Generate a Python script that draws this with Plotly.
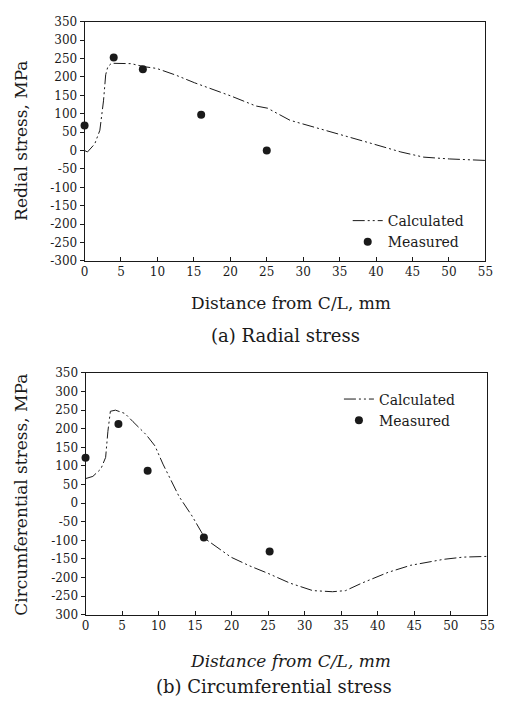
import plotly.graph_objects as go

# ---- data ----
x_ticks = [0, 5, 10, 15, 20, 25, 30, 35, 40, 45, 50, 55]
y_ticks = [350, 300, 250, 200, 150, 100, 50, 0, -50, -100, -150, -200, -250, -300]
y_ticktext_a = ["350", "300", "250", "200", "150", "100", "50", "0", "-50", "-100", "-150", "-200", "-250", "-300"]
y_ticktext_b = ["350", "300", "250", "200", "150", "100", "50", "0", "-50", "-100", "-150", "-200", "-250", "300"]

rad_calc_x = [0, 0.4, 1.4, 2.1, 2.6, 2.9, 3.2, 3.7, 6.4, 8.1, 9.9, 12.5, 15.1, 20.1, 23.5, 25.1, 28.2, 33.1, 39.4, 43.4, 46.5, 50.1, 55]
rad_calc_y = [0, -4, 18, 55, 135, 206, 228, 237, 236, 228, 223, 205, 184, 148, 121, 115, 82, 55, 19, -4, -18, -23, -27]
rad_meas_x = [0, 4, 8, 16, 25]
rad_meas_y = [68, 253, 221, 97, 0]

circ_calc_x = [0, 1, 2.1, 2.75, 3.06, 3.4, 4.1, 5.4, 6.5, 8.3, 9.5, 10.6, 12.8, 14.6, 16.4, 19.9, 22.4, 24.9, 28, 31.1, 33.8, 35.6, 37.8, 41.4, 44.5, 49, 51.7, 55]
circ_calc_y = [66, 72, 92, 123, 193, 247, 250, 241, 219, 184, 154, 105, 18, -35, -96, -145, -168, -188, -215, -235, -238, -235, -215, -186, -167, -151, -145, -143]
circ_meas_x = [0, 4.5, 8.5, 16.2, 25.2]
circ_meas_y = [122, 213, 87, -92, -130]

W, H = 510, 711
FONT = "DejaVu Serif"
INK = "#1a1a1a"
DASH = "12px,3px,2px,3px,2px,3px"

fig = go.Figure()

fig.add_trace(go.Scatter(x=rad_calc_x, y=rad_calc_y, mode="lines", name="Calculated",
                         line=dict(color=INK, width=1, dash=DASH),
                         xaxis="x", yaxis="y", legend="legend"))
fig.add_trace(go.Scatter(x=rad_meas_x, y=rad_meas_y, mode="markers", name="Measured",
                         marker=dict(color=INK, size=8), cliponaxis=False,
                         xaxis="x", yaxis="y", legend="legend"))
fig.add_trace(go.Scatter(x=circ_calc_x, y=circ_calc_y, mode="lines", name="Calculated",
                         line=dict(color=INK, width=1, dash=DASH),
                         xaxis="x2", yaxis="y2", legend="legend2"))
fig.add_trace(go.Scatter(x=circ_meas_x, y=circ_meas_y, mode="markers", name="Measured",
                         marker=dict(color=INK, size=8), cliponaxis=False,
                         xaxis="x2", yaxis="y2", legend="legend2"))

def px_x(p):
    return p / W

def px_y(p):
    return 1 - p / H

axis_common = dict(showline=True, mirror=True, linecolor=INK, linewidth=1,
                   showgrid=False, zeroline=False,
                   tickfont=dict(family=FONT, size=12, color=INK))

fig.update_layout(
    width=W, height=H,
    margin=dict(l=0, r=0, t=0, b=0),
    paper_bgcolor="white", plot_bgcolor="white",
    showlegend=True,
    xaxis=dict(domain=[px_x(82.5), px_x(493)], range=[0, 55], anchor="y",
               tickvals=x_ticks, ticks="inside", ticklen=4, tickcolor=INK, **axis_common),
    yaxis=dict(domain=[px_y(259), px_y(15)], range=[-300, 350], anchor="x",
               tickvals=y_ticks, ticktext=y_ticktext_a, ticks="outside", ticklen=4,
               tickcolor=INK, **axis_common),
    xaxis2=dict(domain=[px_x(83.5), px_x(495)], range=[0, 55], anchor="y2",
                tickvals=x_ticks, ticks="inside", ticklen=4, tickcolor=INK, **axis_common),
    yaxis2=dict(domain=[px_y(620), px_y(373.3)], range=[-300, 350], anchor="x2",
                tickvals=y_ticks, ticktext=y_ticktext_b, ticks="outside", ticklen=4,
                tickcolor=INK, **axis_common),
    legend=dict(x=px_x(352), y=px_y(202), xanchor="left", yanchor="top",
                bgcolor="rgba(0,0,0,0)", itemwidth=30,
                font=dict(family=FONT, size=14, color=INK)),
    legend2=dict(x=px_x(343), y=px_y(384), xanchor="left", yanchor="top",
                 bgcolor="rgba(0,0,0,0)", itemwidth=30,
                 font=dict(family=FONT, size=14, color=INK)),
)

annots = [
    dict(text="Redial stress, MPa", x=px_x(18), y=px_y(137), textangle=-90, size=17),
    dict(text="Distance from C/L, mm", x=px_x(294), y=px_y(302), textangle=0, size=17),
    dict(text="(a) Radial stress", x=px_x(288), y=px_y(335), textangle=0, size=18),
    dict(text="Circumferential stress, MPa", x=px_x(18), y=px_y(498), textangle=-90, size=17),
    dict(text="<i>Distance from C/L, mm</i>", x=px_x(293), y=px_y(667), textangle=0, size=17),
    dict(text="(b) Circumferential stress", x=px_x(277), y=px_y(693), textangle=0, size=18),
]
for a in annots:
    fig.add_annotation(text=a["text"], x=a["x"], y=a["y"], xref="paper", yref="paper",
                       xanchor="center", yanchor="middle", showarrow=False,
                       textangle=a["textangle"],
                       font=dict(family=FONT, size=a["size"], color=INK))

fig.write_html("out.html")
